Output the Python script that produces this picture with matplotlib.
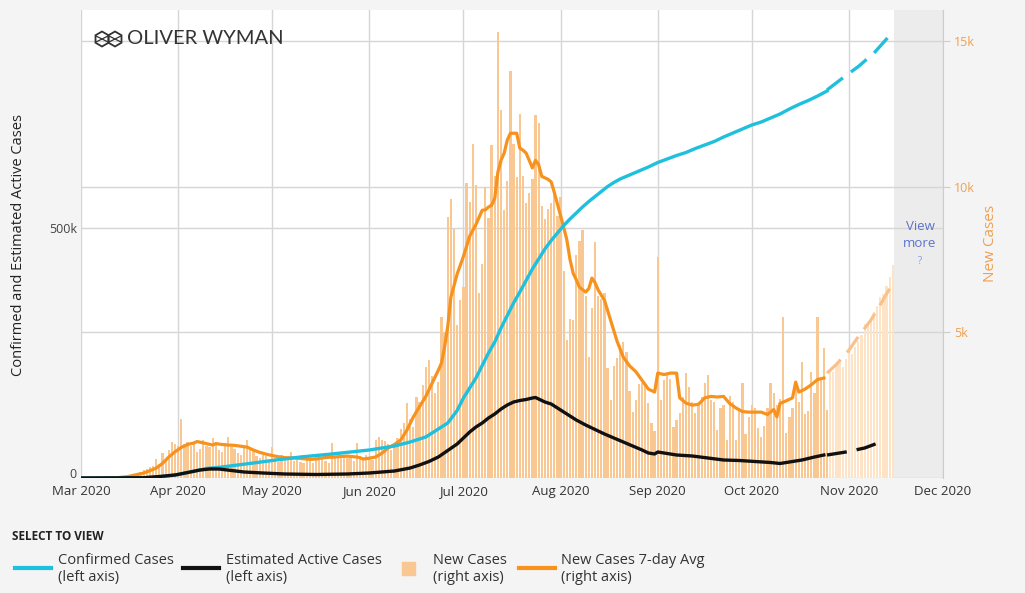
import matplotlib
matplotlib.use('Agg')
import matplotlib.pyplot as plt
import pandas as pd
from matplotlib.lines import Line2D
from matplotlib.patches import Rectangle, RegularPolygon
from matplotlib.transforms import blended_transform_factory

# ---------------- data ----------------
start = pd.Timestamp('2020-03-01')

new_mar = [0, 0, 0, 0, 0, 0, 0, 2, 5, 8, 12, 20, 25, 35, 40, 50, 70, 100, 130, 190,
           260, 300, 380, 420, 650, 480, 850, 620, 950, 1230, 1150]
new_apr = [1100, 2020, 1150, 1250, 1100, 1200, 900, 1000, 1300, 1100, 1050, 1370, 1150, 950, 900,
           1200, 1400, 1050, 1000, 850, 800, 1100, 1300, 950, 1000, 750, 700, 800, 750, 650]
new_may = [1060, 700, 550, 800, 650, 700, 900, 600, 750, 550, 500, 800, 650, 500, 800, 750,
           700, 600, 500, 1200, 700, 750, 800, 750, 700, 750, 600, 1200, 650, 700, 800]
new_jun = [667, 617, 1317, 1419, 1305, 1270, 1180, 966, 1096, 1371, 1698, 1902, 2581, 2016, 1758,
           2783, 2610, 3207, 3822, 4049, 3494, 2926, 3289, 5508, 5004, 8942, 9585, 8530, 5266, 6093]
new_jul = [6563, 10109, 9488, 11445, 10059, 6336, 7347, 9989, 8935, 11433, 10360, 15300, 12624,
           9194, 10181, 13965, 11466, 10328, 12478, 10347, 9440, 9785, 10249, 12444, 12199, 9344,
           8892, 9230, 9446, 9956, 9007]
new_aug = [9642, 7104, 4752, 5446, 5409, 7650, 8121, 8502, 6229, 4155, 5831, 8109, 6236, 6148,
           6352, 3779, 2678, 3838, 4115, 4555, 4684, 4311, 2974, 2258, 2673, 3220, 3269, 3197,
           2583, 1885, 1600]
new_sep = [7569, 2680, 3360, 3600, 3400, 1750, 2000, 2230, 2780, 3600, 3120, 2600, 2230, 2500,
           2780, 3260, 3530, 2680, 2600, 1650, 2400, 2500, 1300, 2800, 2600, 1300, 2400, 3260,
           1500, 2100]
new_oct = [2500, 2400, 1700, 1400, 1800, 2400, 3260, 2900, 2500, 2700, 5520, 1540, 2100, 2400,
           3100, 2600, 3980, 2200, 2300, 3640, 2900, 5520, 3400, 4460, 2330]
new_projected = [3700, 3650, 3900, 4000, 3800, 4100, 4300, 4250, 4500, 4700, 4900, 5300, 5250,
                 5500, 5700, 5900, 6200, 6300, 6600, 6900, 7300]

# 7-day average (day offset from Mar 1, value)
avg_days = [0, 8, 12, 15, 18, 20, 22, 24, 26, 28, 30, 32, 34, 36, 37, 38, 40, 42, 43, 45, 47, 49,
            51, 53, 55, 57, 59, 61, 63, 65, 67, 69, 71, 73, 75, 77, 79, 81, 83, 85, 87, 89, 90,
            92, 94, 96, 98, 100, 102, 104, 106, 108, 110, 112, 114, 115, 116, 117, 118, 120, 122,
            124, 126, 128, 129, 130, 131, 132, 133, 134, 135, 136, 137, 139, 140, 141, 142, 143,
            144, 145, 146, 147, 149, 150, 151, 152, 153, 154, 155, 156, 157, 158, 159, 161, 162,
            163, 164, 165, 167, 169, 171, 173, 175, 177, 179, 181, 183, 184, 186, 188, 190, 191,
            193, 195, 197, 199, 201, 203, 205, 207, 209, 211, 213, 215, 217, 219, 221, 222, 223,
            225, 227, 228, 229, 231, 233, 235, 237]
avg_vals = [0, 0, 15, 50, 120, 170, 250, 340, 500, 720, 900, 1050, 1150, 1200, 1250, 1230, 1180,
            1130, 1180, 1150, 1130, 1120, 1090, 1060, 960, 880, 820, 770, 730, 700, 690, 680, 660,
            640, 650, 690, 710, 720, 740, 750, 730, 700, 650, 680, 720, 850, 1030, 1150, 1300,
            1650, 2090, 2450, 2800, 3250, 3700, 3940, 4500, 5200, 6200, 7000, 7600, 8300, 8700,
            9190, 9200, 9300, 9360, 9600, 10500, 10900, 11150, 11600, 11830, 11830, 11320, 11250,
            11150, 10900, 10640, 10900, 10750, 10350, 10250, 10160, 9800, 9400, 9000, 8600, 8170,
            7500, 7030, 6800, 6550, 6380, 6500, 6860, 6700, 6450, 6100, 5400, 4700, 4150, 3850,
            3650, 3350, 3050, 2950, 3600, 3550, 3600, 3600, 2750, 2570, 2500, 2530, 2750, 2800,
            2780, 2800, 2550, 2400, 2280, 2260, 2260, 2260, 2180, 2350, 2100, 2560, 2650, 2750,
            3290, 2950, 3050, 3200, 3380, 3430]
avg_proj_days = [238, 241, 245, 248, 252, 255, 259]
avg_proj_vals = [3600, 3900, 4390, 4850, 5420, 5950, 6690]

confirmed_days = [0, 15, 20, 25, 31, 35, 40, 45, 50, 55, 61, 70, 80, 92, 100, 105, 110, 114, 117,
                  120, 122, 124, 126, 128, 130, 132, 134, 136, 138, 140, 142, 144, 146, 148, 150,
                  152, 154, 156, 158, 160, 162, 164, 166, 168, 170, 172, 175, 178, 181, 184, 187,
                  190, 193, 196, 199, 202, 205, 208, 211, 214, 217, 220, 223, 226, 229, 232, 235,
                  238]
confirmed_vals = [0, 200, 600, 2000, 7000, 12000, 19000, 22000, 26000, 30000, 35000, 42000, 48000,
                  56000, 64000, 72000, 82000, 98000, 110000, 135000, 160000, 180000, 200000,
                  225000, 250000, 272000, 300000, 325000, 350000, 372000, 395000, 418000, 438000,
                  458000, 475000, 490000, 505000, 518000, 530000, 542000, 553000, 563000, 573000,
                  583000, 591000, 598000, 606000, 614000, 622000, 631000, 638000, 645000, 651000,
                  659000, 666000, 673000, 682000, 690000, 698000, 706000, 712000, 720000, 728000,
                  738000, 747000, 755000, 764000, 774000]
confirmed_proj_days = [238, 243, 248, 253, 259]
confirmed_proj_vals = [776000, 800000, 823000, 850000, 892000]

active_days = [0, 20, 25, 30, 34, 38, 41, 44, 48, 52, 58, 65, 75, 85, 92, 100, 105, 108, 111, 114,
               117, 120, 122, 124, 126, 128, 130, 132, 134, 136, 138, 140, 142, 144, 145, 146, 148,
               150, 152, 155, 158, 161, 164, 167, 170, 173, 176, 179, 181, 183, 184, 186, 190, 195,
               200, 205, 210, 215, 220, 223, 226, 230, 234, 237]
active_vals = [0, 500, 3000, 6000, 11000, 16000, 18000, 18000, 15000, 12000, 10000, 8000, 7000,
               8000, 10000, 14000, 20000, 26000, 33000, 42000, 55000, 68000, 80000, 92000, 102000,
               110000, 120000, 128000, 138000, 146000, 152000, 155000, 157000, 160000, 161000,
               158000, 152000, 148000, 140000, 128000, 116000, 106000, 97000, 88000, 80000, 72000,
               64000, 56000, 50000, 48000, 52000, 50000, 46000, 44000, 40000, 36000, 35000, 33000,
               31000, 29000, 32000, 36000, 42000, 46000]
active_proj_days = [238, 244, 250, 256]
active_proj_vals = [46000, 52000, 60000, 74000]

month_labels = ['Mar 2020', 'Apr 2020', 'May 2020', 'Jun 2020', 'Jul 2020', 'Aug 2020',
                'Sep 2020', 'Oct 2020', 'Nov 2020', 'Dec 2020']
left_ticks = [0, 500000]
left_tick_labels = ['0', '500k']
right_ticks = [5000, 10000, 15000]
right_tick_labels = ['5k', '10k', '15k']

# ---------------- styling ----------------
CYAN = '#1fbfde'
ORANGE = '#f7921e'
BAR = '#f9c792'
BAR_PROJ = '#fde4c6'
GRID = '#d6d6d6'
NARROW = ['Liberation Sans Narrow', 'Open Sans', 'DejaVu Sans']

new_actual = new_mar + new_apr + new_may + new_jun + new_jul + new_aug + new_sep + new_oct
actual_x = list(range(len(new_actual)))
proj_x = list(range(len(new_actual), len(new_actual) + len(new_projected)))
month_starts = pd.date_range('2020-03-01', '2020-12-01', freq='MS')
month_pos = [(m - start).days for m in month_starts]

W, H = 1025, 593
fig = plt.figure(figsize=(W / 100, H / 100), dpi=100, facecolor='#f4f4f4')
rect = [81 / W, 1 - 478 / H, (943 - 81) / W, (478 - 10) / H]
ax_r = fig.add_axes(rect, facecolor='white')
ax_l = fig.add_axes(rect, facecolor='none', sharex=ax_r)

ax_r.set_xlim(month_pos[0], month_pos[-1])
ax_r.set_ylim(0, 16060)
ax_l.set_ylim(0, 936000)

# shaded "view more" region
ax_r.axvspan(proj_x[-1] + 0.3, month_pos[-1], color='#ececec', zorder=0, lw=0)

# grid
for p in month_pos:
    ax_r.axvline(p, color=GRID, lw=1, zorder=0.5)
for t in right_ticks:
    ax_r.axhline(t, color=GRID, lw=1, zorder=0.5)
tr = blended_transform_factory(ax_r.transAxes, ax_l.transData)
for t in left_ticks:
    ax_r.add_line(Line2D([0, 1], [t, t], transform=tr, color=GRID, lw=1, zorder=0.5))

# bars
ax_r.bar(actual_x, new_actual, width=0.72, color=BAR, zorder=1, lw=0)
ax_r.bar(proj_x, new_projected, width=0.72, color=BAR_PROJ, zorder=1, lw=0)

# 7-day avg
ax_r.plot(avg_days, avg_vals, color=ORANGE, lw=2.3, zorder=3, solid_joinstyle='round')
ax_r.plot(avg_proj_days, avg_proj_vals, color='#f9c18c', lw=2.3, zorder=3, dashes=(6, 3))

# left axis lines
ax_l.plot(confirmed_days, confirmed_vals, color=CYAN, lw=2.4, zorder=3)
ax_l.plot(confirmed_proj_days, confirmed_proj_vals, color=CYAN, lw=2.4, zorder=3, dashes=(6, 3))
ax_l.plot(active_days, active_vals, color='#111111', lw=2.4, zorder=4)
ax_l.plot(active_proj_days, active_proj_vals, color='#111111', lw=2.4, zorder=4, dashes=(6, 3))

# axes/ticks
for a in (ax_r, ax_l):
    for s in a.spines.values():
        s.set_visible(False)
ax_r.spines['right'].set_visible(True)
ax_r.spines['right'].set_color('#cccccc')

ax_r.set_xticks(month_pos)
ax_r.set_xticklabels(month_labels, family=NARROW, fontsize=9.5, color='#333333')
ax_r.tick_params(axis='x', length=0, pad=5)
ax_r.yaxis.tick_right()
ax_r.set_yticks(right_ticks)
ax_r.set_yticklabels(right_tick_labels, family='Open Sans', fontsize=9, color='#f0a050')
ax_r.tick_params(axis='y', length=5, color='#cccccc', pad=3)

ax_l.xaxis.set_visible(False)
ax_l.yaxis.tick_left()
ax_l.set_yticks(left_ticks)
ax_l.set_yticklabels(['', left_tick_labels[1]], family='Open Sans', fontsize=9, color='#444444')
ax_l.tick_params(axis='y', length=0, pad=3)
# zero label nudged up slightly so it clears the first month label
fig.text(77 / W, 1 - 474 / H, left_tick_labels[0], ha='right', va='center',
         family='Open Sans', fontsize=9, color='#444444')

fig.text(19 / W, 1 - 245 / H, 'Confirmed and Estimated Active Cases', rotation=90,
         ha='center', va='center', family='Open Sans', fontsize=10.5, color='#222222')
fig.text(990 / W, 1 - 243 / H, 'New Cases', rotation=90, ha='center', va='center',
         family='Open Sans', fontsize=11, color='#f0a050')

# view more text
fig.text(920 / W, 1 - 235 / H, 'View\nmore', ha='center', va='center', family='Open Sans',
         fontsize=9.5, color='#5b72cc', linespacing=1.4)
fig.text(920 / W, 1 - 262 / H, '?', ha='center', va='center', family='Open Sans',
         fontsize=7, color='#8a9ad8')

# logo
fig.text(127 / W, 1 - 39 / H, 'OLIVER WYMAN', ha='left', va='center', family='Lato',
         fontsize=14.5, color='#333333')
for cx in (102, 115):
    fig.patches.append(RegularPolygon((cx / 100, (H - 39) / 100), numVertices=6, radius=0.075,
                                      orientation=0.0, transform=fig.dpi_scale_trans,
                                      fill=False, ec='#333333', lw=1.3))
    fig.add_artist(Line2D([(cx - 6) / 100, (cx + 6) / 100], [(H - 36) / 100, (H - 42) / 100],
                          transform=fig.dpi_scale_trans, color='#333333', lw=0.9))
    fig.add_artist(Line2D([(cx - 6) / 100, (cx + 6) / 100], [(H - 42) / 100, (H - 36) / 100],
                          transform=fig.dpi_scale_trans, color='#333333', lw=0.9))

# legend
fig.text(12 / W, 1 - 537 / H, 'SELECT TO VIEW', ha='left', va='center', family=NARROW,
         fontsize=8.5, fontweight='bold', color='#222222')
leg_items = [
    ('line', CYAN, 15, 51, 58, 'Confirmed Cases\n(left axis)'),
    ('line', '#111111', 183, 219, 226, 'Estimated Active Cases\n(left axis)'),
    ('box', BAR, 402, 415, 433, 'New Cases\n(right axis)'),
    ('line', ORANGE, 519, 555, 561, 'New Cases 7-day Avg\n(right axis)'),
]
for kind, col, x0, x1, xt, label in leg_items:
    if kind == 'line':
        fig.add_artist(Line2D([x0 / W, x1 / W], [1 - 568 / H, 1 - 568 / H], color=col, lw=3,
                              transform=fig.transFigure))
    else:
        fig.patches.append(Rectangle((x0 / W, 1 - 575 / H), (x1 - x0) / W, 13 / H,
                                     color=col, transform=fig.transFigure))
    fig.text(xt / W, 1 - 569 / H, label, ha='left', va='center', family=NARROW,
             fontsize=10.5, color='#333333', linespacing=1.2)

fig.savefig('out.png', dpi=100, facecolor=fig.get_facecolor())
